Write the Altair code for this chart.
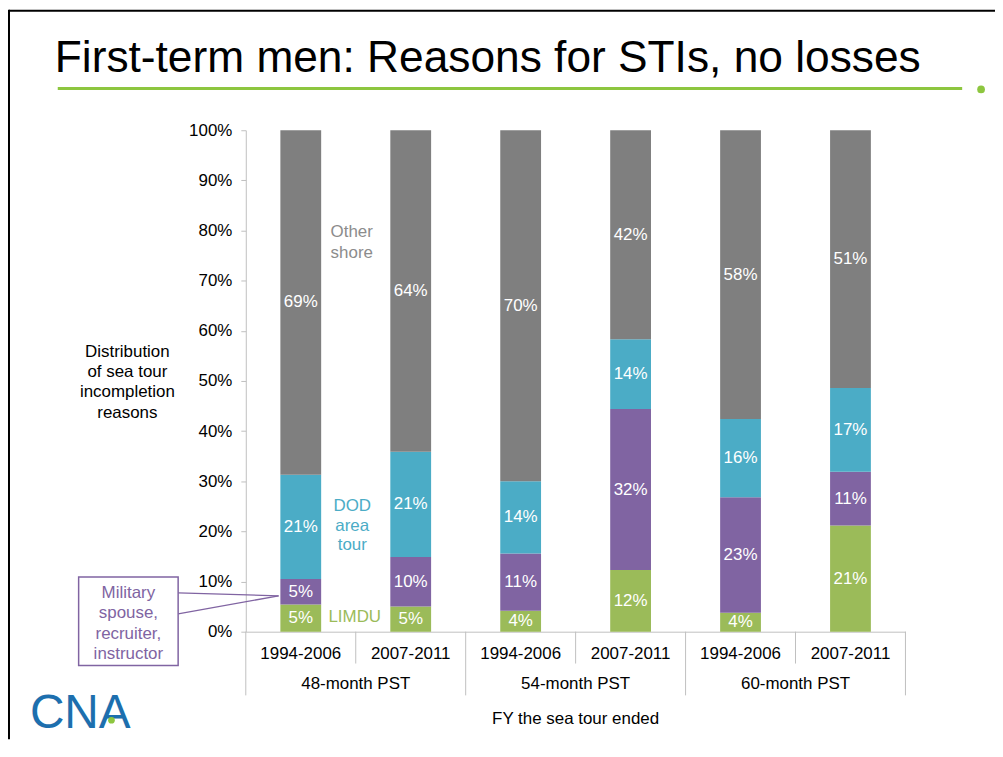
import altair as alt
import pandas as pd

# ---------------- data ----------------
groups = ["48-month PST", "48-month PST", "54-month PST", "54-month PST", "60-month PST", "60-month PST"]
periods = ["1994-2006", "2007-2011", "1994-2006", "2007-2011", "1994-2006", "2007-2011"]
reasons = ["LIMDU", "Military spouse, recruiter, instructor", "DOD area tour", "Other shore"]
limdu = [5.4, 5.0, 4.2, 12.3, 3.8, 21.2]
military = [5.1, 9.9, 11.4, 32.1, 23.0, 10.7]
dod = [20.8, 21.0, 14.4, 13.9, 15.6, 16.7]
other = [68.7, 64.1, 70.0, 41.7, 57.6, 51.4]
colors = ["#9BBB59", "#8064A2", "#4BACC6", "#7F7F7F"]
y_ticks = list(range(0, 101, 10))

title_text = "First-term men: Reasons for STIs, no losses"
y_title = "Distribution\nof sea tour\nincompletion\nreasons"
x_title = "FY the sea tour ended"
callout = "Military\nspouse,\nrecruiter,\ninstructor"

keys = [f"{g}|{p}" for g, p in zip(groups, periods)]
rows = []
for i, k in enumerate(keys):
    for j, (r, vals) in enumerate(zip(reasons, [limdu, military, dod, other])):
        rows.append(dict(key=k, reason=r, value=vals[i], order=j))
seg = pd.DataFrame(rows)
bars_df = pd.DataFrame({"key": keys, "period": periods, "group": groups})
grp_df = bars_df.iloc[[0, 2, 4]].reset_index(drop=True)

FONT = "Liberation Sans"
GRID = "#BFBFBF"
GREEN_LINE = "#8DC63F"

W, H = 663, 504
xsc = alt.Scale(domain=keys, paddingInner=0, paddingOuter=0)
ysc = alt.Scale(domain=[0, 100], nice=False)
xaxis = alt.Axis(labels=False, ticks=False, title=None, domainColor=GRID, domainWidth=1)
yaxis = alt.Axis(values=y_ticks, labelExpr="datum.value + '%'",
                 labelFontSize=17, labelFont=FONT, labelColor="#000000",
                 tickColor=GRID, tickSize=5, tickWidth=1,
                 domainColor=GRID, domainWidth=1, labelPadding=9, grid=False, title=None)


def X(field="key:N", **kw):
    return alt.X(field, scale=xsc, axis=xaxis, **kw)


def Y(field):
    return alt.Y(field, scale=ysc, axis=yaxis)


# ---------------- bars & labels ----------------
base = alt.Chart(seg).transform_stack(
    stack="value", groupby=["key"], as_=["y0", "y1"],
    sort=[alt.SortField("order", order="ascending")]
).transform_calculate(
    mid="(datum.y0 + datum.y1) / 2",
    label="format(datum.value, '.0f') + '%'"
)

bars = base.mark_bar(width=41).encode(
    x=X(),
    y=Y("y0:Q"),
    y2="y1:Q",
    color=alt.Color("reason:N", scale=alt.Scale(domain=reasons, range=colors), legend=None),
)

seg_labels = base.mark_text(color="white", fontSize=17, font=FONT, baseline="middle").encode(
    x=X(),
    y=Y("mid:Q"),
    text="label:N",
)

# ---------------- category axis (two levels) ----------------
sep_inner = alt.Chart(grp_df).mark_rule(color=GRID, strokeWidth=1).encode(
    x=X(bandPosition=1), y=alt.value(H), y2=alt.value(H + 32),
)
sep_outer_l = alt.Chart(grp_df).mark_rule(color=GRID, strokeWidth=1).encode(
    x=X(bandPosition=0), y=alt.value(H), y2=alt.value(H + 64),
)
sep_outer_r = alt.Chart(bars_df.iloc[[5]]).mark_rule(color=GRID, strokeWidth=1).encode(
    x=X(bandPosition=1), y=alt.value(H), y2=alt.value(H + 64),
)
year_labels = alt.Chart(bars_df).mark_text(fontSize=17, font=FONT, color="#000000", baseline="middle").encode(
    x=X(), y=alt.value(H + 22), text="period:N",
)
group_labels = alt.Chart(grp_df).mark_text(fontSize=17, font=FONT, color="#000000", baseline="middle").encode(
    x=X(bandPosition=1), y=alt.value(H + 53), text="group:N",
)


def ptext(text, x, y, size=17, color="#000000", align="center", baseline="middle", lh=20, **kw):
    # y is the position of the first line
    return alt.Chart(pd.DataFrame({"t": [text]})).mark_text(
        font=FONT, fontSize=size, color=color, align=align, baseline=baseline,
        lineBreak="\n", lineHeight=lh, **kw
    ).encode(x=alt.value(x), y=alt.value(y), text="t:N")


def dtext(text, yv, color, lh=20, dx=-3):
    # yv is the data value of the first line
    return alt.Chart(pd.DataFrame({"t": [text], "key": [keys[0]], "y": [yv]})).mark_text(
        font=FONT, fontSize=17, color=color, align="center", baseline="middle",
        lineBreak="\n", lineHeight=lh, dx=dx
    ).encode(
        x=X(bandPosition=1),
        y=Y("y:Q"),
        text="t:N",
    )


def prule(x1, y1, x2, y2, color, width):
    return alt.Chart(pd.DataFrame({"a": [0]})).mark_rule(color=color, strokeWidth=width).encode(
        x=alt.value(x1), y=alt.value(y1), x2=alt.value(x2), y2=alt.value(y2)
    )


x_axis_title = ptext(x_title, W / 2, H + 88)
y_axis_title = ptext(y_title, -119, 223, lh=20.3)

# series annotations
ann_other = dtext("Other\nshore", 79.7, "#8C8C8C", lh=21, dx=-4)
ann_dod = dtext("DOD\narea\ntour", 25.0, "#4BACC6", lh=19.5, dx=-3.5)
ann_limdu = dtext("LIMDU", 3.0, "#9BBB59", dx=-1)

# callout for the purple series
call_box = alt.Chart(pd.DataFrame({"a": [0]})).mark_rect(
    fill="white", stroke="#8064A2", strokeWidth=1.5
).encode(x=alt.value(-168), x2=alt.value(-68), y=alt.value(449), y2=alt.value(538))
call_text = ptext(callout, -118, 465, color="#8064A2", lh=20.5)
call_l1 = prule(-68, 465, 33, 468, "#8064A2", 1.3)
call_l2 = prule(-68, 486, 33, 468, "#8064A2", 1.3)

# slide decorations
title = ptext(title_text, -192, -59, size=44.5, align="left", baseline="alphabetic")
green_line = prule(-189, -42, 720, -42, GREEN_LINE, 3)
green_dot = alt.Chart(pd.DataFrame({"a": [0]})).mark_circle(
    color=GREEN_LINE, opacity=1, size=60
).encode(x=alt.value(739), y=alt.value(-41))
border_left = prule(-238, -121, -238, H + 108, "#000000", 2)
border_top = prule(-238, -120, W + 90, -120, "#000000", 2)
logo = ptext("CNA", -217, H + 107, size=48, color="#1D6FAE", align="left", baseline="bottom")
logo_dot = alt.Chart(pd.DataFrame({"a": [0]})).mark_circle(
    color=GREEN_LINE, opacity=1, size=45
).encode(x=alt.value(-135), y=alt.value(593))

chart = alt.layer(
    bars, seg_labels,
    sep_inner, sep_outer_l, sep_outer_r, year_labels, group_labels,
    x_axis_title, y_axis_title,
    ann_other, ann_dod, ann_limdu,
    call_l1, call_l2, call_box, call_text,
    title, green_line, green_dot, border_left, border_top, logo, logo_dot,
).properties(
    width=W, height=H,
    padding={"left": 239, "top": 121, "right": 90, "bottom": 108},
    autosize=alt.AutoSizeParams(type="none"),
    background="white",
).configure_view(stroke=None)

chart.save("out.html", embed_options={"renderer": "svg", "actions": False})
